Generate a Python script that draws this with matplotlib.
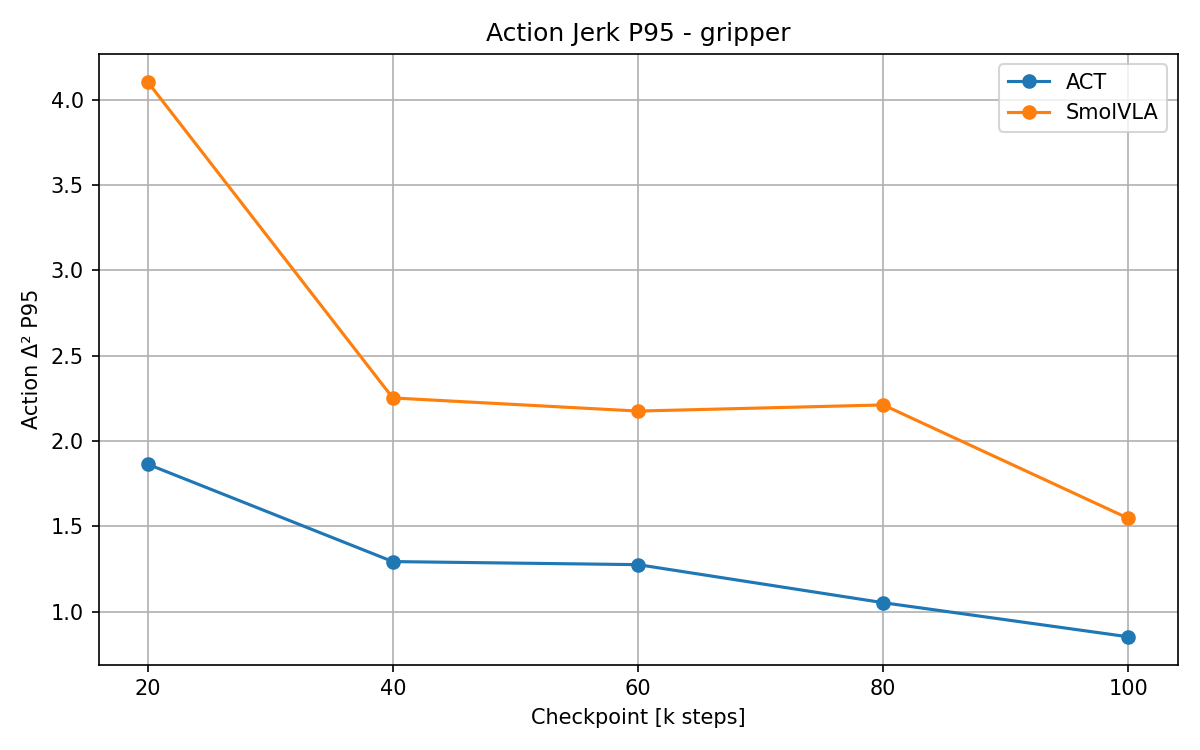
import matplotlib
matplotlib.use("Agg")
import matplotlib.pyplot as plt

checkpoints = [20, 40, 60, 80, 100]
act_values = [1.865, 1.294, 1.276, 1.053, 0.853]
smolvla_values = [4.106, 2.253, 2.176, 2.212, 1.547]

fig, ax = plt.subplots(figsize=(8, 5), dpi=150)
ax.plot(checkpoints, act_values, marker="o", label="ACT")
ax.plot(checkpoints, smolvla_values, marker="o", label="SmolVLA")
ax.set_title("Action Jerk P95 - gripper")
ax.set_xlabel("Checkpoint [k steps]")
ax.set_ylabel("Action Δ² P95")
ax.set_xticks(checkpoints)
ax.grid(True)
ax.legend()
fig.tight_layout()
fig.savefig("out.png")
